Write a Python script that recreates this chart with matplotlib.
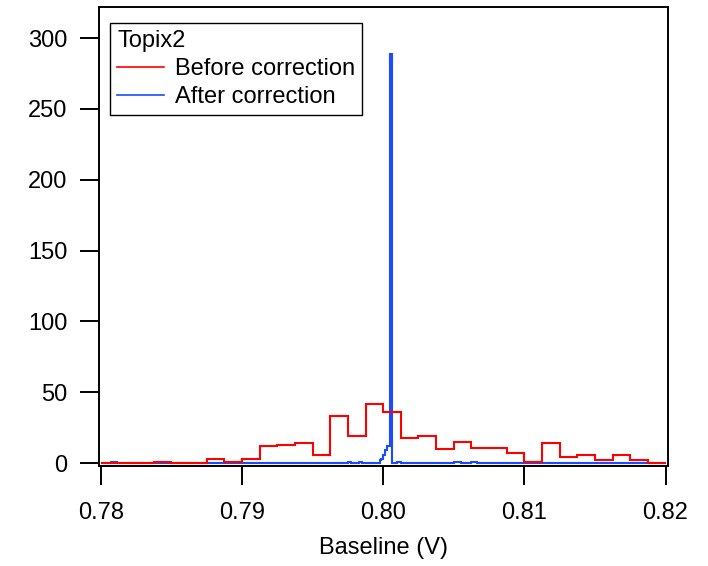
import matplotlib
matplotlib.use("Agg")
import matplotlib.pyplot as plt
import numpy as np

plt.rcParams["font.family"] = ["Liberation Sans", "DejaVu Sans"]

# red histogram: 32 bins of 1.25 mV starting at 0.780 V
red_start = 0.780
red_width = 0.00125
red_counts = [0, 0, 0, 1, 0, 0, 3, 1, 3, 12, 13, 14, 6, 33, 19, 42,
              36, 18, 19, 10, 15, 11, 11, 7, 1, 14, 4, 6, 2, 6, 2, 0]

# blue histogram: 320 bins of 0.125 mV, only non-empty bins listed
blue_start = 0.780
blue_width = 0.000125
blue_nbins = 320
blue_bins = [6, 7, 8, 140, 141, 146, 147, 158, 159, 160, 161, 162, 163, 164,
             168, 169, 200, 201, 202, 203, 210, 211, 212]
blue_counts = [1, 1, 1, 1, 1, 1, 1, 2, 3, 6, 9, 12, 12, 289,
               1, 1, 1, 1, 1, 1, 1, 1, 1]

x_ticks = [0.78, 0.79, 0.80, 0.81, 0.82]
y_ticks = [0, 50, 100, 150, 200, 250, 300]

RED = "#ff0000"
BLUE = "#1a4bff"
FS = 17


def main() -> None:
    red_edges = red_start + red_width * np.arange(len(red_counts) + 1)
    blue_vals = np.zeros(blue_nbins)
    blue_vals[blue_bins] = blue_counts
    blue_edges = blue_start + blue_width * np.arange(blue_nbins + 1)

    fig = plt.figure(figsize=(7.08, 5.66), dpi=100)
    ax = fig.add_axes([0.1405, 0.1767, 0.8035, 0.811])

    ax.stairs(red_counts, red_edges, color=RED, linewidth=1.5, label="Before correction", zorder=3)
    ax.stairs(blue_vals, blue_edges, color=BLUE, linewidth=1.5, label="After correction", zorder=2)

    ax.set_xlim(0.7799, 0.8202)
    ax.set_ylim(-2, 322)
    ax.set_xticks(x_ticks)
    ax.set_xticklabels([f"{v:.2f}" for v in x_ticks])
    ax.set_yticks(y_ticks)
    ax.tick_params(direction="out", length=14, width=1.4, labelsize=FS, colors="black")
    ax.tick_params(axis="x", pad=12)
    ax.tick_params(axis="y", pad=9)
    for sp in ax.spines.values():
        sp.set_linewidth(1.4)
        sp.set_color("black")
    ax.set_xlabel("Baseline (V)", fontsize=FS, labelpad=9)

    leg = ax.legend(title="Topix2", loc="upper left", bbox_to_anchor=(0.0185, 0.965),
                    borderaxespad=0, fontsize=FS, title_fontsize=FS, alignment="left",
                    fancybox=False, framealpha=1, edgecolor="black",
                    handlelength=2.0, handletextpad=0.45, labelspacing=0.25,
                    borderpad=0.3)
    leg.get_frame().set_linewidth(1.0)
    for h in leg.legend_handles:
        h.set_linewidth(1.2)

    fig.savefig("out.png", dpi=100)
    plt.close(fig)


if __name__ == "__main__":
    main()
